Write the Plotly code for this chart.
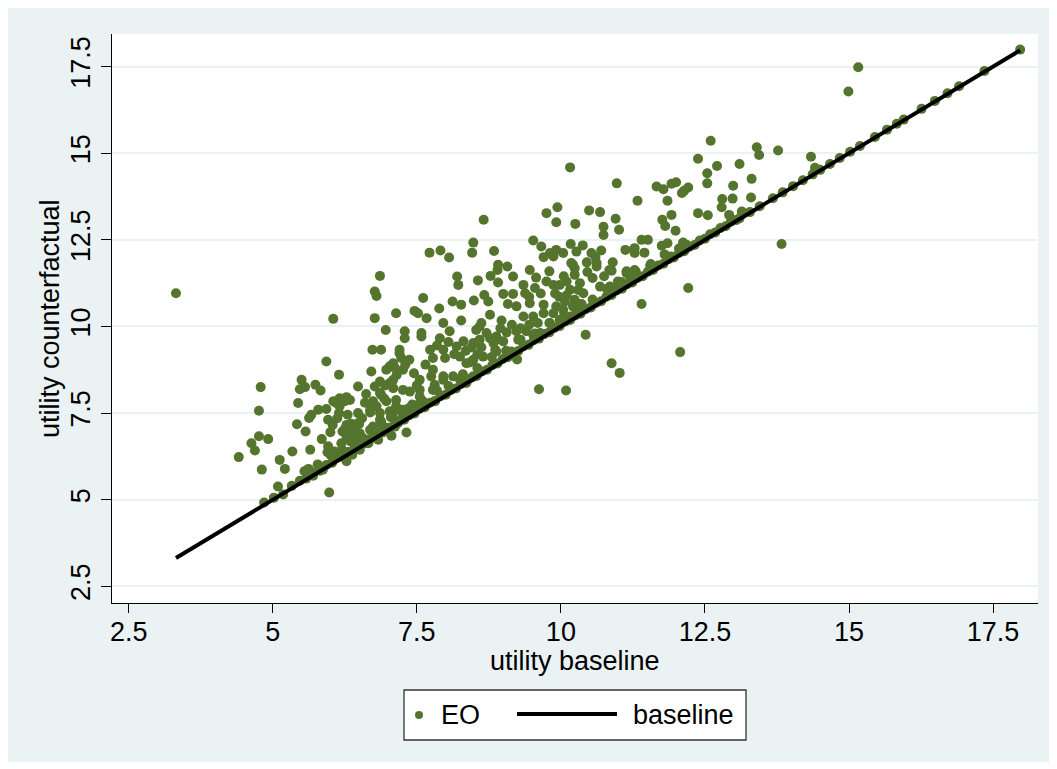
import numpy as np
import plotly.graph_objects as go

# ---- data: EO scatter (utility baseline vs utility counterfactual) ----
# points clearly off the 45-degree line
off_baseline = [
    3.32, 15.16, 14.99, 13.40, 13.44, 13.77, 14.34, 14.41, 13.10, 13.31, 13.30, 13.14, 13.83,
    12.60, 12.38, 12.71, 12.54, 12.54, 10.97, 11.66, 11.78, 11.92, 12.00, 12.10, 12.14, 12.21,
    11.85, 11.33, 12.99, 12.80, 12.98, 12.79, 12.38, 12.55, 12.92, 10.95, 11.92, 11.76, 11.81,
    11.99, 11.01, 11.12, 11.28, 11.28, 11.40, 11.51, 11.45, 11.75, 11.85, 12.12, 12.18, 11.56,
    11.91, 10.88, 11.14, 11.28, 11.20, 10.99, 10.88, 12.21, 11.40, 12.07,
    10.16, 9.75, 9.94, 9.92, 10.25, 10.49, 10.68, 10.74, 10.74, 8.66, 9.52, 9.66, 8.48, 8.46,
    7.72, 7.91, 8.06, 8.84, 9.70, 9.92, 10.04, 10.17, 10.38, 10.53, 10.70, 10.27, 9.81, 8.91,
    9.07, 8.90, 9.17, 8.78, 8.91, 9.46, 9.57, 9.80, 10.18, 10.24, 10.46, 10.62, 10.84, 9.98,
    10.10, 10.33, 9.87, 10.16, 10.39, 10.24, 10.07, 10.36, 9.92, 10.68, 10.85, 8.56, 8.20,
    8.22, 9.35, 9.38, 9.55, 8.67, 8.74, 9.00, 9.17, 9.08, 9.23, 9.46, 9.70, 9.70, 9.52, 9.35,
    9.87, 10.04, 10.21, 7.61, 7.89, 8.12, 8.27, 8.49, 8.77, 7.52, 7.67, 7.14, 7.29, 7.58, 7.96,
    8.27, 8.62, 8.97, 7.90, 8.07, 8.53, 8.71, 8.88, 9.06, 9.23, 9.40, 9.52, 8.83, 8.48, 8.31,
    8.19, 7.96, 7.73, 7.78, 7.99, 8.25, 8.42, 8.65, 8.88, 9.09, 9.24, 7.20, 7.37, 7.09, 7.26,
    7.78, 8.13, 7.96, 7.55, 7.78, 7.38, 7.55, 7.14, 7.26, 7.03, 9.62, 10.09, 10.43, 10.88,
    11.02, 11.14,
    6.86, 6.77, 6.80, 6.05, 6.77, 6.96, 5.93, 6.15, 4.79, 5.50, 5.47, 5.56, 5.74, 5.83, 6.48,
    6.73, 6.88, 6.71, 6.77, 6.97, 7.09, 7.09, 6.86, 6.74, 6.97, 7.20, 5.44, 6.16, 6.28, 6.34,
    6.05, 5.79, 5.93, 5.67, 5.63, 4.76, 5.96, 5.42, 5.57, 6.25, 6.36, 6.50, 6.47, 6.69, 6.74,
    6.88, 7.06, 4.76, 4.92, 4.63, 4.69, 4.41, 5.34, 5.65, 5.95, 5.12, 5.21, 4.81, 5.62, 5.87,
    5.09, 5.98, 6.07, 6.19, 6.45, 6.21, 6.28, 6.51, 6.51, 6.38, 6.28, 6.66, 6.83, 7.08, 7.17,
    7.46, 7.29, 7.58, 7.20, 7.23, 7.03, 7.12, 6.86, 7.03, 6.88, 7.26, 7.55, 7.75, 7.81, 7.96,
    8.25, 8.36, 8.48, 7.81, 7.55, 7.37, 7.14, 6.93, 6.86, 6.69, 6.48, 6.48, 6.28, 6.40, 6.69,
    6.86, 7.12, 7.32, 6.04, 6.16, 6.25, 6.15, 6.41, 5.96,
    9.87, 10.62, 10.21, 10.24, 9.97, 9.81, 9.98, 10.16, 10.27, 8.59, 8.59, 8.77, 8.88, 9.00,
    9.26, 9.64, 8.36, 8.86, 9.14, 8.48, 6.10, 5.70, 6.07, 6.19,
]
off_counterfactual = [
    10.96, 17.48, 16.78, 15.17, 14.95, 15.08, 14.90, 14.58, 14.69, 14.26, 13.72, 13.32, 12.38,
    15.36, 14.84, 14.63, 14.42, 14.13, 14.13, 14.04, 13.96, 14.12, 14.16, 13.85, 13.92, 14.01,
    13.63, 13.63, 14.06, 13.68, 13.69, 13.44, 13.27, 13.21, 13.22, 13.11, 13.22, 13.08, 12.90,
    12.76, 12.79, 12.21, 12.26, 12.12, 12.50, 12.50, 12.13, 12.33, 12.40, 12.42, 12.36, 11.80,
    12.02, 11.61, 11.59, 11.63, 11.44, 11.30, 11.11, 11.11, 10.65, 9.26,
    14.59, 13.27, 13.44, 13.01, 12.96, 13.35, 13.30, 12.88, 12.64, 13.08, 12.48, 12.31, 12.42,
    12.13, 12.13, 12.19, 11.99, 12.18, 12.00, 12.21, 12.12, 12.38, 12.34, 12.12, 12.19, 12.16,
    12.12, 11.78, 11.73, 11.63, 11.44, 11.46, 11.27, 11.63, 11.41, 11.59, 11.83, 11.68, 11.57,
    11.83, 11.63, 11.20, 11.30, 11.25, 11.20, 11.06, 10.96, 10.77, 10.72, 10.65, 10.58, 11.15,
    11.15, 11.33, 11.44, 11.20, 11.20, 10.96, 11.11, 10.91, 10.72, 10.94, 10.94, 10.65, 10.58,
    10.67, 10.63, 10.38, 10.29, 10.29, 10.38, 10.48, 10.58, 10.82, 10.52, 10.72, 10.63, 10.75,
    10.34, 10.38, 10.24, 10.38, 9.86, 9.81, 10.10, 10.17, 10.10, 10.17, 9.66, 9.86, 9.90, 9.81,
    9.71, 9.83, 9.86, 9.86, 9.76, 9.52, 9.52, 9.57, 9.42, 9.33, 9.33, 9.09, 9.09, 9.13, 8.96,
    9.13, 9.28, 9.23, 9.05, 9.23, 9.04, 8.94, 8.75, 8.75, 8.56, 8.46, 8.46, 8.17, 8.12, 7.98,
    7.88, 7.60, 7.55, 8.19, 8.15, 9.76, 8.94, 8.66, 11.54,
    11.46, 11.01, 10.88, 10.22, 10.24, 9.90, 8.99, 8.61, 8.25, 8.46, 8.19, 8.25, 8.32, 8.15,
    8.27, 9.33, 9.33, 8.70, 8.27, 8.75, 8.46, 8.22, 8.08, 7.84, 7.84, 7.60, 7.79, 7.93, 7.96,
    7.88, 7.84, 7.60, 7.62, 7.45, 7.36, 7.57, 7.31, 7.18, 6.97, 7.04, 7.19, 7.19, 6.85, 7.52,
    7.11, 7.26, 6.85, 6.83, 6.75, 6.63, 6.42, 6.23, 6.39, 6.44, 6.37, 6.15, 5.89, 5.87, 5.89,
    5.87, 5.38, 5.21, 6.39, 6.63, 6.63, 6.97, 6.83, 6.92, 6.44, 6.30, 6.11, 6.63, 6.73, 7.45,
    7.21, 10.45, 9.66, 9.71, 9.33, 9.09, 8.85, 8.80, 8.41, 8.37, 8.03, 8.17, 8.17, 8.56, 8.32,
    8.56, 8.46, 8.37, 8.56, 7.84, 7.79, 7.65, 7.70, 7.93, 7.50, 7.60, 7.50, 7.21, 7.16, 7.02,
    7.02, 7.31, 7.11, 6.94, 7.16, 7.70, 7.84, 7.50, 6.83, 6.54,
    12.02, 11.73, 11.78, 11.49, 10.86, 10.10, 10.19, 10.29, 10.39, 10.00, 9.62, 9.66, 9.62,
    9.57, 9.62, 9.81, 8.94, 9.33, 9.28, 9.04, 7.79, 5.69, 6.20, 6.25,
]

# additional points inside the dense cloud
dense_baseline = [
    7.85, 8.05, 8.15, 8.35, 8.45, 8.55, 8.62, 8.95, 9.15, 9.30, 9.45, 9.60, 9.45, 9.65, 9.75,
    9.90, 10.10, 10.05, 10.30, 7.15, 7.30, 7.45, 7.65, 7.50, 5.85, 6.00, 6.12, 6.30, 6.55,
    6.60, 6.80, 6.95, 6.62, 10.45, 10.55, 10.75, 10.90, 10.60,
]
dense_counterfactual = [
    9.45, 9.55, 9.20, 9.30, 9.40, 9.20, 9.40, 9.95, 10.05, 9.95, 10.05, 10.10, 10.85, 10.95,
    11.30, 10.95, 10.90, 11.45, 11.05, 8.60, 8.90, 8.65, 8.90, 8.30, 6.75, 6.95, 7.35, 7.45,
    7.35, 7.80, 7.70, 8.30, 8.05, 11.85, 11.40, 11.45, 11.85, 12.00,
]

# points lying on or just above the 45-degree line
on_baseline = [
    4.85, 5.02, 5.18, 5.33, 5.47, 5.58, 5.70, 5.82, 5.93, 6.03, 6.12, 6.22, 6.31, 6.40, 6.49,
    6.58, 6.66, 6.75, 6.84, 6.92, 7.01, 7.10, 7.19, 7.28, 7.37, 7.46, 7.55, 7.64, 7.73, 7.82,
    7.91, 8.00, 8.09, 8.18, 8.27, 8.36, 8.45, 8.54, 8.63, 8.72, 8.81, 8.90, 8.99, 9.08, 9.17,
    9.26, 9.35, 9.44, 9.53, 9.62, 9.71, 9.80, 9.89, 9.98, 10.07, 10.16, 10.25, 10.34, 10.43,
    10.52, 10.61, 10.70, 10.79, 10.88, 10.97, 11.06, 11.15, 11.24, 11.33, 11.42, 11.51, 11.60,
    11.69, 11.78, 11.87, 11.96, 12.05, 12.14, 12.23, 12.32, 12.41, 12.50, 12.59, 12.68, 12.77,
    12.86, 12.95, 13.04, 13.10, 13.28, 13.45, 13.68, 13.85, 14.03, 14.20, 14.37, 14.50, 14.67,
    14.84, 15.02, 15.19, 15.45, 15.66, 15.83, 15.95, 16.26, 16.49, 16.71, 16.91, 17.35, 17.97,
]
on_counterfactual = [
    4.92, 5.06, 5.15, 5.40, 5.55, 5.61, 5.78, 5.84, 6.00, 6.07, 6.22, 6.25, 6.38, 6.43, 6.58,
    6.62, 6.74, 6.79, 6.93, 6.95, 7.08, 7.13, 7.27, 7.31, 7.44, 7.49, 7.63, 7.67, 7.80, 7.85,
    7.99, 8.03, 8.16, 8.21, 8.34, 8.39, 8.52, 8.57, 8.70, 8.75, 8.88, 8.93, 9.06, 9.11, 9.24,
    9.29, 9.42, 9.47, 9.60, 9.65, 9.78, 9.83, 9.96, 10.01, 10.14, 10.19, 10.32, 10.37, 10.50,
    10.55, 10.68, 10.73, 10.86, 10.91, 11.04, 11.09, 11.22, 11.27, 11.40, 11.45, 11.58, 11.63,
    11.76, 11.81, 11.94, 11.99, 12.12, 12.17, 12.30, 12.35, 12.48, 12.53, 12.66, 12.71, 12.84,
    12.89, 13.02, 13.07, 13.12, 13.30, 13.47, 13.70, 13.87, 14.05, 14.22, 14.39, 14.52, 14.69,
    14.86, 15.04, 15.21, 15.47, 15.68, 15.85, 15.97, 16.28, 16.51, 16.73, 16.93, 17.37, 17.99,
]
near_baseline = [
    5.55, 5.78, 6.00, 6.20, 6.35, 6.55, 6.70, 6.90, 7.05, 7.25, 7.42, 7.60, 7.85, 8.05, 8.30,
    8.55, 8.80, 9.05, 9.30, 9.55, 9.80, 10.05, 10.30, 10.55, 10.80, 11.05, 11.30, 11.55, 11.80,
    12.05,
]
near_counterfactual = [
    5.82, 6.02, 6.30, 6.45, 6.68, 6.80, 7.00, 7.15, 7.38, 7.50, 7.75, 7.85, 8.15, 8.28, 8.62,
    8.80, 9.12, 9.30, 9.62, 9.80, 10.10, 10.28, 10.62, 10.78, 11.08, 11.28, 11.58, 11.75, 12.08,
    12.25,
]

x_ticks = [2.5, 5, 7.5, 10, 12.5, 15, 17.5]
x_tick_labels = ["2.5", "5", "7.5", "10", "12.5", "15", "17.5"]
y_ticks = [2.5, 5, 7.5, 10, 12.5, 15, 17.5]
y_tick_labels = ["2.5", "5", "7.5", "10", "12.5", "15", "17.5"]

eo_x = np.array(off_baseline + dense_baseline + on_baseline + near_baseline)
eo_y = np.array(off_counterfactual + dense_counterfactual + on_counterfactual + near_counterfactual)
base_sorted = np.sort(eo_x)

GREEN = "#55752F"
BG = "#EAF2F3"
FONT = "Liberation Sans, Arial, Helvetica, sans-serif"
FS = 27

fig = go.Figure()
fig.add_trace(go.Scatter(
    x=eo_x, y=eo_y, mode="markers", name="EO",
    marker=dict(color=GREEN, size=10, line=dict(width=0)),
    showlegend=False, hoverinfo="skip",
))
fig.add_trace(go.Scatter(
    x=base_sorted, y=base_sorted, mode="lines", name="baseline",
    line=dict(color="black", width=4),
    showlegend=False, hoverinfo="skip",
))

# page geometry: the page body adds an 8px offset around the figure
OFF = 8
W, H = 1057 - OFF, 769 - OFF
PL, PR, PT, PB = 112, 1038, 34, 603          # plot area on the page (pixels)
L, T = PL - OFF, PT - OFF
R, B = (W + OFF) - PR, (H + OFF) - PB
pw, ph = PR - PL, PB - PT

def px(xp):
    return (xp - PL) / pw

def py(yp):
    return (PB - yp) / ph

shapes = [
    # outer light background
    dict(type="rect", xref="paper", yref="paper", layer="below",
         x0=px(6), x1=px(1050), y0=py(762), y1=py(6),
         fillcolor=BG, line=dict(width=0)),
    # white plot region
    dict(type="rect", xref="paper", yref="paper", layer="below",
         x0=0, x1=1, y0=0, y1=1, fillcolor="white", line=dict(width=0)),
    # legend box
    dict(type="rect", xref="paper", yref="paper",
         x0=px(404), x1=px(746), y0=py(740), y1=py(690),
         fillcolor="white", line=dict(color="#333333", width=1.3)),
    # legend marker
    dict(type="circle", xref="paper", yref="paper",
         x0=px(415), x1=px(423), y0=py(719), y1=py(711),
         fillcolor=GREEN, line=dict(width=0)),
    # legend line
    dict(type="line", xref="paper", yref="paper",
         x0=px(517), x1=px(617), y0=py(714), y1=py(714),
         line=dict(color="black", width=4)),
]

annotations = [
    dict(text="utility baseline", xref="paper", yref="paper", x=0.5, y=py(661),
         xanchor="center", yanchor="middle", showarrow=False,
         font=dict(size=FS, color="black", family=FONT)),
    dict(text="utility counterfactual", xref="paper", yref="paper", x=px(50), y=py(319),
         xanchor="center", yanchor="middle", textangle=-90, showarrow=False,
         font=dict(size=FS, color="black", family=FONT)),
    dict(text="EO", xref="paper", yref="paper", x=px(439), y=py(715),
         xanchor="left", yanchor="middle", showarrow=False,
         font=dict(size=FS, color="black", family=FONT)),
    dict(text="baseline", xref="paper", yref="paper", x=px(631), y=py(715),
         xanchor="left", yanchor="middle", showarrow=False,
         font=dict(size=FS, color="black", family=FONT)),
]

fig.update_layout(
    width=W, height=H,
    margin=dict(l=L, r=R, t=T, b=B, pad=0),
    paper_bgcolor="white",
    plot_bgcolor="white",
    font=dict(family=FONT, size=FS, color="black"),
    showlegend=False,
    shapes=shapes,
    annotations=annotations,
    xaxis=dict(
        range=[2.21, 18.28], tickmode="array", tickvals=x_ticks, ticktext=x_tick_labels,
        showgrid=False, zeroline=False, showline=True, linecolor="black", linewidth=1.3,
        ticks="outside", ticklen=9, tickwidth=1.3, tickcolor="black",
        ticklabelstandoff=-5,
        tickfont=dict(size=FS, family=FONT, color="black"),
    ),
    yaxis=dict(
        range=[2.02, 18.44], tickmode="array", tickvals=y_ticks, ticktext=y_tick_labels,
        showgrid=True, gridcolor=BG, gridwidth=1.6, zeroline=False,
        showline=True, linecolor="black", linewidth=1.3,
        ticks="outside", ticklen=10, tickwidth=1.3, tickcolor="black",
        tickangle=-90, tickfont=dict(size=FS, family=FONT, color="black"),
    ),
)

fig.write_html("out.html")
